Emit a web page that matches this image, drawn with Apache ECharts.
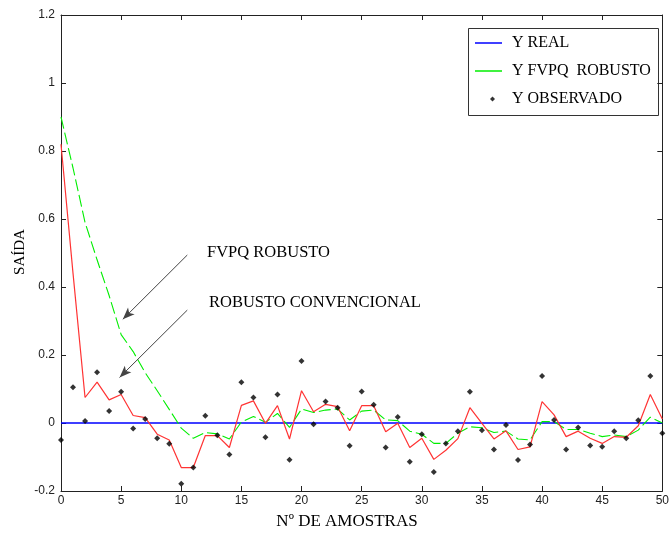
<!DOCTYPE html>
<html>
<head>
<meta charset="utf-8">
<script src="https://cdn.jsdelivr.net/npm/echarts@6/dist/echarts.min.js"></script>
<style>
html,body{margin:0;padding:0;background:#fff;}
#c{width:672px;height:533px;}
</style>
</head>
<body>
<div id="c"></div>
<script>
// ---- data ----
var samples = [];
for (var i = 0; i <= 50; i++) samples.push(i);

var yReal = [0,0,0,0,0,0,0,0,0,0,0,0,0,0,0,0,0,0,0,0,0,0,0,0,0,0,0,0,0,0,0,0,0,0,0,0,0,0,0,0,0,0,0,0,0,0,0,0,0,0,0];

var yFvpq = [0.90,0.75,0.59,0.48,0.375,0.26,0.21,0.148,0.095,0.04,-0.015,-0.045,-0.028,-0.032,-0.047,0.003,0.019,0.002,0.028,-0.013,
  0.041,0.031,0.038,0.041,0.009,0.035,0.038,0.009,0.007,-0.024,-0.033,-0.06,-0.06,-0.03,-0.011,-0.014,-0.028,-0.024,-0.047,-0.05,
  0.004,0.004,-0.019,-0.019,-0.03,-0.04,-0.035,-0.04,-0.021,0.017,0.0];

var yConv = [0.82,0.44,0.075,0.12,0.068,0.084,0.022,0.016,-0.033,-0.05,-0.131,-0.131,-0.037,-0.037,-0.072,0.052,0.065,-0.001,0.051,-0.047,
  0.095,0.033,0.055,0.048,-0.023,0.051,0.051,-0.026,-0.001,-0.072,-0.045,-0.107,-0.08,-0.046,0.045,-0.001,-0.047,-0.023,-0.078,-0.07,
  0.063,0.024,-0.04,-0.024,-0.045,-0.06,-0.04,-0.042,-0.008,0.084,0.012];

var yObs = [-0.05,0.105,0.006,0.149,0.035,0.092,-0.016,0.012,-0.045,-0.061,-0.179,-0.131,0.021,-0.036,-0.093,0.12,0.075,-0.042,0.084,-0.108,
  0.182,-0.004,0.063,0.045,-0.067,0.093,0.054,-0.072,0.018,-0.114,-0.033,-0.144,-0.06,-0.024,0.092,-0.021,-0.078,-0.006,-0.109,-0.063,
  0.138,0.009,-0.078,-0.013,-0.066,-0.07,-0.024,-0.045,0.008,0.138,-0.03];

var xTicks = {min: 0, max: 50, step: 5};
var yTicks = {min: -0.2, max: 1.2, step: 0.2};

// annotation arrows in data units [from, to]
var arrowFvpq = [[10.5, 0.494], [5.14, 0.305]];
var arrowConv = [[10.5, 0.332], [4.87, 0.134]];

function pairs(ys) { return samples.map(function (x, k) { return [x, ys[k]]; }); }

var chart = echarts.init(document.getElementById('c'), null, {renderer: 'canvas'});
var serif = '"Liberation Serif","DejaVu Serif",serif';
var sans = '"Liberation Sans",Arial,sans-serif';
var axisCol = '#222';

var option = {
  backgroundColor: '#fff',
  animation: false,
  grid: {left: 61, right: 5, top: 15, bottom: 42, containLabel: false},
  xAxis: [{
    type: 'value', min: xTicks.min, max: xTicks.max, interval: xTicks.step, position: 'bottom',
    axisLine: {show: true, onZero: false, lineStyle: {color: axisCol, width: 1}},
    axisTick: {show: true, inside: true, length: 5, lineStyle: {color: axisCol}},
    axisLabel: {color: '#222', fontFamily: sans, fontSize: 12, margin: 4},
    splitLine: {show: false}
  }, {
    type: 'value', min: xTicks.min, max: xTicks.max, interval: xTicks.step, position: 'top',
    axisLine: {show: true, onZero: false, lineStyle: {color: axisCol, width: 1}},
    axisTick: {show: true, inside: true, length: 5, lineStyle: {color: axisCol}},
    axisLabel: {show: false}, splitLine: {show: false}
  }],
  yAxis: [{
    type: 'value', min: yTicks.min, max: yTicks.max, interval: yTicks.step, position: 'left',
    axisLine: {show: true, onZero: false, lineStyle: {color: axisCol, width: 1}},
    axisTick: {show: true, inside: true, length: 5, lineStyle: {color: axisCol}},
    axisLabel: {color: '#222', fontFamily: sans, fontSize: 12, margin: 6},
    splitLine: {show: false}
  }, {
    type: 'value', min: yTicks.min, max: yTicks.max, interval: yTicks.step, position: 'right',
    axisLine: {show: true, onZero: false, lineStyle: {color: axisCol, width: 1}},
    axisTick: {show: true, inside: true, length: 5, lineStyle: {color: axisCol}},
    axisLabel: {show: false}, splitLine: {show: false}
  }],
  legend: [{
    data: [{name: 'Y REAL', icon: 'rect'}, {name: 'Y FVPQ  ROBUSTO', icon: 'rect'}],
    orient: 'vertical', left: 475, top: 34,
    itemWidth: 27, itemHeight: 1.5, itemGap: 10, padding: 0,
    textStyle: {fontFamily: serif, fontSize: 16, lineHeight: 18, color: '#000', padding: [0, 0, 0, 5]},
    selectedMode: false
  }, {
    data: [{name: 'Y OBSERVADO', icon: 'diamond'}],
    orient: 'vertical', left: 490, top: 90,
    itemWidth: 5, itemHeight: 5, padding: 0,
    textStyle: {fontFamily: serif, fontSize: 16, lineHeight: 18, color: '#000', padding: [0, 0, 0, 12]},
    selectedMode: false
  }],
  graphic: [
    {type: 'rect', left: 468, top: 28, shape: {width: 190, height: 87},
     style: {fill: '#fff', stroke: '#333', lineWidth: 1}, z: 0, silent: true},
    {type: 'text', x: 207, y: 253, style: {text: 'FVPQ ROBUSTO', font: '16.5px ' + serif, fill: '#000', verticalAlign: 'middle'}, z: 10},
    {type: 'text', x: 209, y: 303, style: {text: 'ROBUSTO CONVENCIONAL', font: '16.5px ' + serif, fill: '#000', verticalAlign: 'middle'}, z: 10},
    {type: 'text', x: 347, y: 522, style: {text: 'Nº DE AMOSTRAS', font: '17px ' + serif, fill: '#000', align: 'center', verticalAlign: 'middle'}, z: 10},
    {type: 'text', x: 20, y: 252, rotation: Math.PI / 2, style: {text: 'SAÍDA', font: '15px ' + serif, fill: '#000', align: 'center', verticalAlign: 'middle'}, z: 10}
  ],
  series: [
    {name: 'Y REAL', type: 'line', data: pairs(yReal), symbol: 'none',
     lineStyle: {color: '#0000ff', width: 1.3}, itemStyle: {color: '#0000ff'}, z: 3},
    {name: 'Y FVPQ  ROBUSTO', type: 'line', data: pairs(yFvpq), symbol: 'none',
     lineStyle: {color: '#00ee00', width: 1.1, type: [12, 4]}, itemStyle: {color: '#00ee00'}, z: 4},
    {name: 'ROBUSTO CONVENCIONAL', type: 'line', data: pairs(yConv), symbol: 'none',
     lineStyle: {color: '#ff3333', width: 1.2}, itemStyle: {color: '#ff3333'}, z: 5},
    {name: 'Y OBSERVADO', type: 'scatter', data: pairs(yObs), symbol: 'diamond', symbolSize: 6,
     itemStyle: {color: '#000'}, z: 6},
    {name: 'arrows', type: 'line', data: [], symbol: 'none', silent: true,
     markLine: {
       silent: true, symbol: ['none', 'arrow'], symbolSize: [7, 12],
       label: {show: false},
       lineStyle: {color: '#444', width: 1, type: 'solid'},
       emphasis: {disabled: true},
       data: [
         [{coord: arrowFvpq[0]}, {coord: arrowFvpq[1]}],
         [{coord: arrowConv[0]}, {coord: arrowConv[1]}]
       ]
     }}
  ]
};
chart.setOption(option);
</script>
</body>
</html>
